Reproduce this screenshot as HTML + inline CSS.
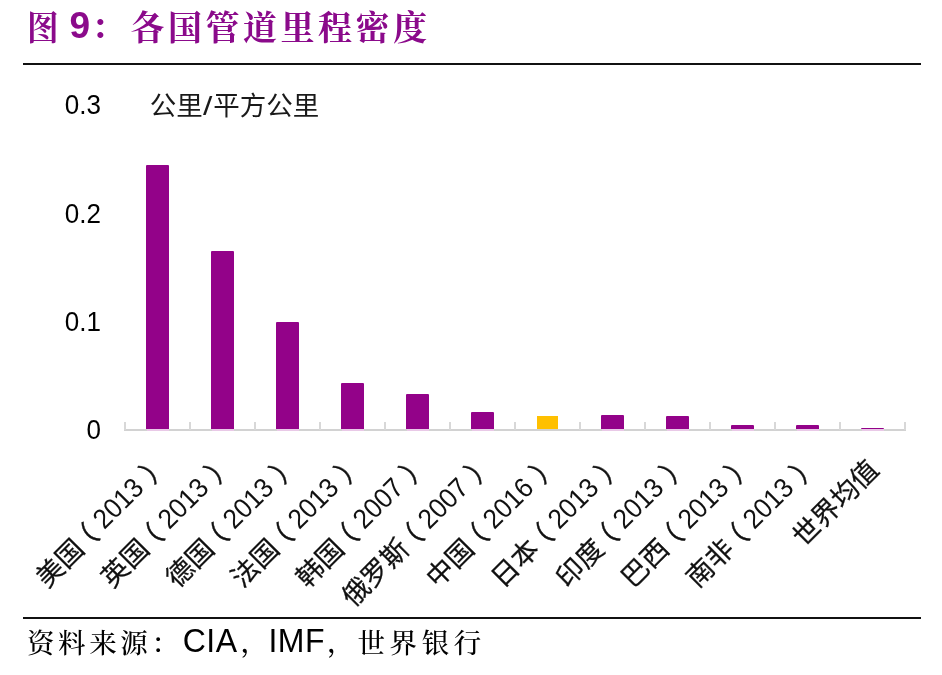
<!DOCTYPE html>
<html lang="zh-CN"><head><meta charset="utf-8"><title>图 9：各国管道里程密度</title>
<style>
html,body{margin:0;padding:0;background:#fff;}
body{width:942px;height:675px;position:relative;overflow:hidden;font-family:"Liberation Sans","Noto Sans CJK SC",sans-serif;color:#000;}
.abs{position:absolute;white-space:nowrap;}
.title{color:#8b0a8b;font-weight:bold;font-family:"Liberation Sans","Noto Serif CJK SC",serif;line-height:40px;top:8px;}
.title .c{font-size:34px;letter-spacing:3.5px;}
.title .n{font-size:37px;}
.rule{position:absolute;left:23.2px;width:897.8px;height:2.1px;background:#111;}
.yl{position:absolute;font-size:26px;line-height:30px;width:60px;text-align:right;left:41px;transform:scaleY(1.06);transform-origin:50% 50%;}
.unit{font-size:26.5px;line-height:30px;left:149.7px;top:91px;color:#1a1a1a;}
.unit .sl{display:inline-block;width:10.5px;text-align:center;font-size:26px;}
.unit .sl i{display:inline-block;font-style:normal;transform:scaleX(1.3);}
.bar{position:absolute;width:23px;border-radius:1px 1px 0 0;}
.axis{position:absolute;background:#d2d2d2;}
.xl{position:absolute;white-space:nowrap;font-size:27px;line-height:30px;height:30px;transform-origin:100% 50%;transform:rotate(-45deg);color:#111;}
.xl .k{-webkit-text-stroke:0.25px #111;}
.xl .d{font-size:26px;display:inline-block;position:relative;top:-1.4px;transform:scaleY(1.07);transform-origin:50% 100%;}
.xl .pl{font-size:27px;margin-left:-6.9px;margin-right:7.4px;-webkit-text-stroke:0.45px #111;}
.xl .pr{font-size:27px;margin-left:8.9px;display:inline-block;width:9.6px;-webkit-text-stroke:0.45px #111;}
.src{font-family:"Liberation Sans","Noto Serif CJK SC",serif;top:625px;left:27px;line-height:38px;}
.src .c{font-size:27.5px;letter-spacing:3.6px;font-weight:500;}
.src .n{font-size:32px;letter-spacing:0.5px;display:inline-block;transform:scaleY(1.05);transform-origin:50% 80%;}
</style></head><body>
<div class="abs title" style="left:26.5px"><span class="c" style="display:inline-block;transform:scaleX(0.93);transform-origin:0 50%">图</span></div>
<div class="abs title" style="left:69.4px;top:6.3px"><span class="n">9</span></div>
<div class="abs title" style="left:91.3px;top:7px"><span class="c">：</span></div>
<div class="abs title" style="left:130.5px"><span class="c">各国管道里程密度</span></div>
<div class="rule" style="top:62.9px"></div>
<div class="yl" style="top:88.6px">0.3</div>
<div class="yl" style="top:197.7px">0.2</div>
<div class="yl" style="top:306.0px">0.1</div>
<div class="yl" style="top:413.7px">0</div>
<div class="abs unit">公里<span class="sl"><i>/</i></span>平方公里</div>
<div class="axis" style="left:124px;top:429px;width:782px;height:2px"></div>
<div class="axis" style="left:124.2px;top:422px;width:1.7px;height:8px;background:#d8d8d8"></div>
<div class="axis" style="left:189.2px;top:422px;width:1.7px;height:8px;background:#d8d8d8"></div>
<div class="axis" style="left:254.2px;top:422px;width:1.7px;height:8px;background:#d8d8d8"></div>
<div class="axis" style="left:319.2px;top:422px;width:1.7px;height:8px;background:#d8d8d8"></div>
<div class="axis" style="left:384.2px;top:422px;width:1.7px;height:8px;background:#d8d8d8"></div>
<div class="axis" style="left:449.2px;top:422px;width:1.7px;height:8px;background:#d8d8d8"></div>
<div class="axis" style="left:514.2px;top:422px;width:1.7px;height:8px;background:#d8d8d8"></div>
<div class="axis" style="left:579.2px;top:422px;width:1.7px;height:8px;background:#d8d8d8"></div>
<div class="axis" style="left:644.2px;top:422px;width:1.7px;height:8px;background:#d8d8d8"></div>
<div class="axis" style="left:709.2px;top:422px;width:1.7px;height:8px;background:#d8d8d8"></div>
<div class="axis" style="left:774.2px;top:422px;width:1.7px;height:8px;background:#d8d8d8"></div>
<div class="axis" style="left:839.2px;top:422px;width:1.7px;height:8px;background:#d8d8d8"></div>
<div class="axis" style="left:904.2px;top:422px;width:1.7px;height:8px;background:#d8d8d8"></div>
<div class="bar" style="left:145.9px;top:165.2px;width:23.2px;height:263.8px;background:#930289"></div>
<div class="bar" style="left:146.5px;top:429px;width:22px;height:2px;background:#e9c9e7;border-radius:0"></div>
<div class="bar" style="left:210.9px;top:251px;width:23.2px;height:178.0px;background:#930289"></div>
<div class="bar" style="left:211.5px;top:429px;width:22px;height:2px;background:#e9c9e7;border-radius:0"></div>
<div class="bar" style="left:275.9px;top:322.2px;width:23.2px;height:106.8px;background:#930289"></div>
<div class="bar" style="left:276.5px;top:429px;width:22px;height:2px;background:#e9c9e7;border-radius:0"></div>
<div class="bar" style="left:340.9px;top:382.8px;width:23.2px;height:46.2px;background:#930289"></div>
<div class="bar" style="left:341.5px;top:429px;width:22px;height:2px;background:#e9c9e7;border-radius:0"></div>
<div class="bar" style="left:405.9px;top:394.3px;width:23.2px;height:34.7px;background:#930289"></div>
<div class="bar" style="left:406.5px;top:429px;width:22px;height:2px;background:#e9c9e7;border-radius:0"></div>
<div class="bar" style="left:470.9px;top:411.6px;width:23.2px;height:17.4px;background:#930289"></div>
<div class="bar" style="left:471.5px;top:429px;width:22px;height:2px;background:#e9c9e7;border-radius:0"></div>
<div class="bar" style="left:537.0px;top:415.5px;width:20.8px;height:13.0px;background:#ffc000;border-radius:0"></div>
<div class="bar" style="left:600.9px;top:414.5px;width:23.2px;height:14.5px;background:#930289"></div>
<div class="bar" style="left:601.5px;top:429px;width:22px;height:2px;background:#e9c9e7;border-radius:0"></div>
<div class="bar" style="left:665.9px;top:416px;width:23.2px;height:13.0px;background:#930289"></div>
<div class="bar" style="left:666.5px;top:429px;width:22px;height:2px;background:#e9c9e7;border-radius:0"></div>
<div class="bar" style="left:730.9px;top:425.3px;width:23.2px;height:3.7px;background:#930289"></div>
<div class="bar" style="left:731.5px;top:429px;width:22px;height:2px;background:#e9c9e7;border-radius:0"></div>
<div class="bar" style="left:795.9px;top:425.3px;width:23.2px;height:3.7px;background:#930289"></div>
<div class="bar" style="left:796.5px;top:429px;width:22px;height:2px;background:#e9c9e7;border-radius:0"></div>
<div class="bar" style="left:860.9px;top:427.6px;width:23.2px;height:1.4px;background:#930289"></div>
<div class="bar" style="left:861.5px;top:429px;width:22px;height:2px;background:#e9c9e7;border-radius:0"></div>
<div class="xl" style="right:789.4px;top:456.3px"><span class="k">美国</span><span class="pl">（</span><span class="d">2013</span><span class="pr">）</span></div>
<div class="xl" style="right:724.4px;top:456.3px"><span class="k">英国</span><span class="pl">（</span><span class="d">2013</span><span class="pr">）</span></div>
<div class="xl" style="right:659.4px;top:456.3px"><span class="k">德国</span><span class="pl">（</span><span class="d">2013</span><span class="pr">）</span></div>
<div class="xl" style="right:594.4px;top:456.3px"><span class="k">法国</span><span class="pl">（</span><span class="d">2013</span><span class="pr">）</span></div>
<div class="xl" style="right:529.4px;top:456.3px"><span class="k">韩国</span><span class="pl">（</span><span class="d">2007</span><span class="pr">）</span></div>
<div class="xl" style="right:464.4px;top:456.3px"><span class="k">俄罗斯</span><span class="pl">（</span><span class="d">2007</span><span class="pr">）</span></div>
<div class="xl" style="right:399.4px;top:456.3px"><span class="k">中国</span><span class="pl">（</span><span class="d">2016</span><span class="pr">）</span></div>
<div class="xl" style="right:334.4px;top:456.3px"><span class="k">日本</span><span class="pl">（</span><span class="d">2013</span><span class="pr">）</span></div>
<div class="xl" style="right:269.4px;top:456.3px"><span class="k">印度</span><span class="pl">（</span><span class="d">2013</span><span class="pr">）</span></div>
<div class="xl" style="right:204.4px;top:456.3px"><span class="k">巴西</span><span class="pl">（</span><span class="d">2013</span><span class="pr">）</span></div>
<div class="xl" style="right:139.4px;top:456.3px"><span class="k">南非</span><span class="pl">（</span><span class="d">2013</span><span class="pr">）</span></div>
<div class="xl" style="right:67.9px;top:449.8px"><span class="k">世界均值</span></div>
<div class="rule" style="top:617px"></div>
<div class="abs src"><span class="c">资料来源：</span></div>
<div class="abs src" style="left:182.7px;top:621.6px"><span class="n">CIA</span></div>
<div class="abs src" style="left:240.5px;top:623.5px"><span class="c">，</span></div>
<div class="abs src" style="left:268.4px;top:621.6px"><span class="n">IMF</span></div>
<div class="abs src" style="left:327px;top:623.5px"><span class="c">，</span></div>
<div class="abs src" style="left:357.5px"><span class="c" style="letter-spacing:4.6px">世界银行</span></div>
</body></html>
